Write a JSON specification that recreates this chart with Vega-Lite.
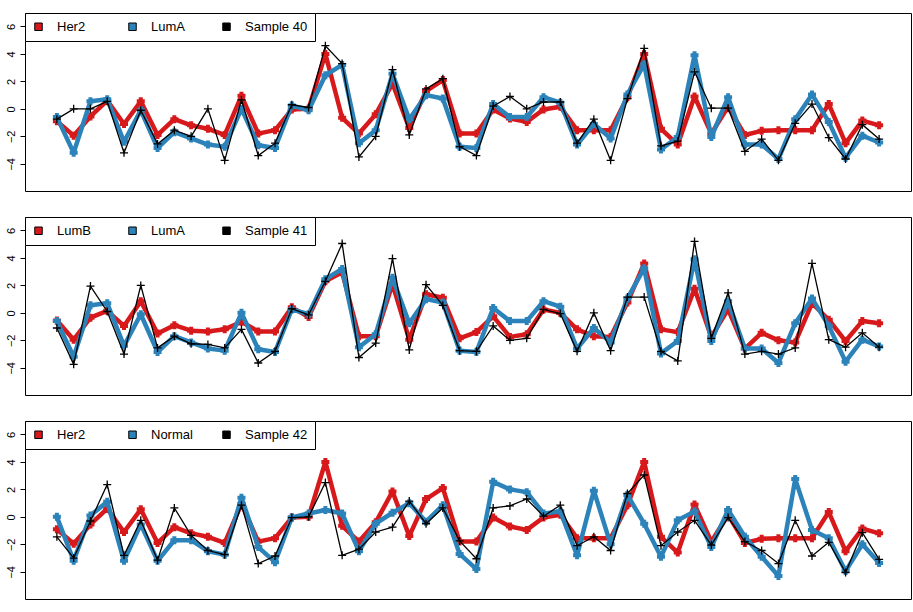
{
"$schema": "https://vega.github.io/schema/vega-lite/v6.json",
"padding": {"left": 4, "top": 12, "right": 1, "bottom": 0},
"background": "white",
"spacing": 24,
"config": {"view": {"stroke": "black", "strokeWidth": 1}, "font": "Liberation Sans"},
"datasets": {"expr": [
{"series":"Her2","x":1,"y":-0.9},{"series":"Her2","x":2,"y":-1.95},{"series":"Her2","x":3,"y":-0.55},{"series":"Her2","x":4,"y":0.6},{"series":"Her2","x":5,"y":-1.1},{"series":"Her2","x":6,"y":0.55},{"series":"Her2","x":7,"y":-1.9},{"series":"Her2","x":8,"y":-0.75},{"series":"Her2","x":9,"y":-1.2},{"series":"Her2","x":10,"y":-1.45},
{"series":"Her2","x":11,"y":-1.9},{"series":"Her2","x":12,"y":0.95},{"series":"Her2","x":13,"y":-1.8},{"series":"Her2","x":14,"y":-1.55},{"series":"Her2","x":15,"y":-0.05},{"series":"Her2","x":16,"y":0.0},{"series":"Her2","x":17,"y":4.0},{"series":"Her2","x":18,"y":-0.65},{"series":"Her2","x":19,"y":-1.8},{"series":"Her2","x":20,"y":-0.4},
{"series":"Her2","x":21,"y":1.85},{"series":"Her2","x":22,"y":-1.4},{"series":"Her2","x":23,"y":1.3},{"series":"Her2","x":24,"y":2.1},{"series":"Her2","x":25,"y":-1.8},{"series":"Her2","x":26,"y":-1.8},{"series":"Her2","x":27,"y":-0.05},{"series":"Her2","x":28,"y":-0.7},{"series":"Her2","x":29,"y":-0.95},{"series":"Her2","x":30,"y":-0.05},
{"series":"Her2","x":31,"y":0.15},{"series":"Her2","x":32,"y":-1.55},{"series":"Her2","x":33,"y":-1.55},{"series":"Her2","x":34,"y":-1.55},{"series":"Her2","x":35,"y":0.85},{"series":"Her2","x":36,"y":4.0},{"series":"Her2","x":37,"y":-1.45},{"series":"Her2","x":38,"y":-2.6},{"series":"Her2","x":39,"y":0.9},{"series":"Her2","x":40,"y":-1.8},
{"series":"Her2","x":41,"y":0.15},{"series":"Her2","x":42,"y":-1.9},{"series":"Her2","x":43,"y":-1.6},{"series":"Her2","x":44,"y":-1.55},{"series":"Her2","x":45,"y":-1.55},{"series":"Her2","x":46,"y":-1.55},{"series":"Her2","x":47,"y":0.35},{"series":"Her2","x":48,"y":-2.5},{"series":"Her2","x":49,"y":-0.85},{"series":"Her2","x":50,"y":-1.2},
{"series":"LumA","x":1,"y":-0.6},{"series":"LumA","x":2,"y":-3.2},{"series":"LumA","x":3,"y":0.55},{"series":"LumA","x":4,"y":0.7},{"series":"LumA","x":5,"y":-2.4},{"series":"LumA","x":6,"y":-0.1},{"series":"LumA","x":7,"y":-2.85},{"series":"LumA","x":8,"y":-1.7},{"series":"LumA","x":9,"y":-2.15},{"series":"LumA","x":10,"y":-2.6},
{"series":"LumA","x":11,"y":-2.75},{"series":"LumA","x":12,"y":0.0},{"series":"LumA","x":13,"y":-2.65},{"series":"LumA","x":14,"y":-2.85},{"series":"LumA","x":15,"y":0.25},{"series":"LumA","x":16,"y":-0.1},{"series":"LumA","x":17,"y":2.45},{"series":"LumA","x":18,"y":3.2},{"series":"LumA","x":19,"y":-2.5},{"series":"LumA","x":20,"y":-1.55},
{"series":"LumA","x":21,"y":2.55},{"series":"LumA","x":22,"y":-0.75},{"series":"LumA","x":23,"y":1.0},{"series":"LumA","x":24,"y":0.75},{"series":"LumA","x":25,"y":-2.75},{"series":"LumA","x":26,"y":-2.85},{"series":"LumA","x":27,"y":0.35},{"series":"LumA","x":28,"y":-0.6},{"series":"LumA","x":29,"y":-0.6},{"series":"LumA","x":30,"y":0.85},
{"series":"LumA","x":31,"y":0.45},{"series":"LumA","x":32,"y":-2.6},{"series":"LumA","x":33,"y":-1.1},{"series":"LumA","x":34,"y":-2.15},{"series":"LumA","x":35,"y":1.05},{"series":"LumA","x":36,"y":3.25},{"series":"LumA","x":37,"y":-2.95},{"series":"LumA","x":38,"y":-2.05},{"series":"LumA","x":39,"y":3.9},{"series":"LumA","x":40,"y":-2.05},
{"series":"LumA","x":41,"y":0.85},{"series":"LumA","x":42,"y":-2.6},{"series":"LumA","x":43,"y":-2.6},{"series":"LumA","x":44,"y":-3.65},{"series":"LumA","x":45,"y":-0.75},{"series":"LumA","x":46,"y":1.05},{"series":"LumA","x":47,"y":-0.95},{"series":"LumA","x":48,"y":-3.55},{"series":"LumA","x":49,"y":-1.95},{"series":"LumA","x":50,"y":-2.45},
{"series":"LumB","x":1,"y":-0.55},{"series":"LumB","x":2,"y":-1.95},{"series":"LumB","x":3,"y":-0.35},{"series":"LumB","x":4,"y":0.15},{"series":"LumB","x":5,"y":-0.95},{"series":"LumB","x":6,"y":0.85},{"series":"LumB","x":7,"y":-1.5},{"series":"LumB","x":8,"y":-0.9},{"series":"LumB","x":9,"y":-1.3},{"series":"LumB","x":10,"y":-1.35},
{"series":"LumB","x":11,"y":-1.2},{"series":"LumB","x":12,"y":-0.65},{"series":"LumB","x":13,"y":-1.35},{"series":"LumB","x":14,"y":-1.35},{"series":"LumB","x":15,"y":0.4},{"series":"LumB","x":16,"y":-0.3},{"series":"LumB","x":17,"y":2.3},{"series":"LumB","x":18,"y":2.95},{"series":"LumB","x":19,"y":-1.7},{"series":"LumB","x":20,"y":-1.7},
{"series":"LumB","x":21,"y":2.1},{"series":"LumB","x":22,"y":-1.95},{"series":"LumB","x":23,"y":1.35},{"series":"LumB","x":24,"y":1.1},{"series":"LumB","x":25,"y":-1.85},{"series":"LumB","x":26,"y":-1.4},{"series":"LumB","x":27,"y":-0.25},{"series":"LumB","x":28,"y":-1.75},{"series":"LumB","x":29,"y":-1.55},{"series":"LumB","x":30,"y":0.25},
{"series":"LumB","x":31,"y":0.0},{"series":"LumB","x":32,"y":-1.2},{"series":"LumB","x":33,"y":-1.7},{"series":"LumB","x":34,"y":-1.75},{"series":"LumB","x":35,"y":0.75},{"series":"LumB","x":36,"y":3.6},{"series":"LumB","x":37,"y":-1.2},{"series":"LumB","x":38,"y":-1.4},{"series":"LumB","x":39,"y":1.75},{"series":"LumB","x":40,"y":-1.75},
{"series":"LumB","x":41,"y":0.25},{"series":"LumB","x":42,"y":-2.6},{"series":"LumB","x":43,"y":-1.45},{"series":"LumB","x":44,"y":-2.0},{"series":"LumB","x":45,"y":-2.15},{"series":"LumB","x":46,"y":0.7},{"series":"LumB","x":47,"y":-0.5},{"series":"LumB","x":48,"y":-2.05},{"series":"LumB","x":49,"y":-0.6},{"series":"LumB","x":50,"y":-0.75},
{"series":"Normal","x":1,"y":0.0},{"series":"Normal","x":2,"y":-3.2},{"series":"Normal","x":3,"y":0.1},{"series":"Normal","x":4,"y":1.1},{"series":"Normal","x":5,"y":-3.2},{"series":"Normal","x":6,"y":-0.55},{"series":"Normal","x":7,"y":-3.2},{"series":"Normal","x":8,"y":-1.7},{"series":"Normal","x":9,"y":-1.7},{"series":"Normal","x":10,"y":-2.5},
{"series":"Normal","x":11,"y":-2.75},{"series":"Normal","x":12,"y":1.4},{"series":"Normal","x":13,"y":-2.2},{"series":"Normal","x":14,"y":-3.3},{"series":"Normal","x":15,"y":-0.05},{"series":"Normal","x":16,"y":0.25},{"series":"Normal","x":17,"y":0.5},{"series":"Normal","x":18,"y":0.25},{"series":"Normal","x":19,"y":-2.5},{"series":"Normal","x":20,"y":-0.5},
{"series":"Normal","x":21,"y":0.3},{"series":"Normal","x":22,"y":1.0},{"series":"Normal","x":23,"y":-0.35},{"series":"Normal","x":24,"y":0.85},{"series":"Normal","x":25,"y":-2.7},{"series":"Normal","x":26,"y":-3.8},{"series":"Normal","x":27,"y":2.55},{"series":"Normal","x":28,"y":2.0},{"series":"Normal","x":29,"y":1.8},{"series":"Normal","x":30,"y":0.25},
{"series":"Normal","x":31,"y":0.4},{"series":"Normal","x":32,"y":-2.8},{"series":"Normal","x":33,"y":1.9},{"series":"Normal","x":34,"y":-2.0},{"series":"Normal","x":35,"y":1.6},{"series":"Normal","x":36,"y":-0.5},{"series":"Normal","x":37,"y":-2.9},{"series":"Normal","x":38,"y":-0.25},{"series":"Normal","x":39,"y":0.4},{"series":"Normal","x":40,"y":-2.2},
{"series":"Normal","x":41,"y":0.5},{"series":"Normal","x":42,"y":-1.45},{"series":"Normal","x":43,"y":-2.9},{"series":"Normal","x":44,"y":-4.3},{"series":"Normal","x":45,"y":2.75},{"series":"Normal","x":46,"y":-0.95},{"series":"Normal","x":47,"y":-1.55},{"series":"Normal","x":48,"y":-3.95},{"series":"Normal","x":49,"y":-2.0},{"series":"Normal","x":50,"y":-3.35},
{"series":"Sample 40","x":1,"y":-0.75},{"series":"Sample 40","x":2,"y":0.0},{"series":"Sample 40","x":3,"y":0.0},{"series":"Sample 40","x":4,"y":0.55},{"series":"Sample 40","x":5,"y":-3.2},{"series":"Sample 40","x":6,"y":-0.1},{"series":"Sample 40","x":7,"y":-2.55},{"series":"Sample 40","x":8,"y":-1.55},{"series":"Sample 40","x":9,"y":-2.0},{"series":"Sample 40","x":10,"y":0.0},
{"series":"Sample 40","x":11,"y":-3.75},{"series":"Sample 40","x":12,"y":0.65},{"series":"Sample 40","x":13,"y":-3.4},{"series":"Sample 40","x":14,"y":-2.5},{"series":"Sample 40","x":15,"y":0.3},{"series":"Sample 40","x":16,"y":0.1},{"series":"Sample 40","x":17,"y":4.6},{"series":"Sample 40","x":18,"y":3.3},{"series":"Sample 40","x":19,"y":-3.5},{"series":"Sample 40","x":20,"y":-2.0},
{"series":"Sample 40","x":21,"y":2.85},{"series":"Sample 40","x":22,"y":-1.9},{"series":"Sample 40","x":23,"y":1.45},{"series":"Sample 40","x":24,"y":2.2},{"series":"Sample 40","x":25,"y":-2.75},{"series":"Sample 40","x":26,"y":-3.4},{"series":"Sample 40","x":27,"y":0.2},{"series":"Sample 40","x":28,"y":0.9},{"series":"Sample 40","x":29,"y":0.0},{"series":"Sample 40","x":30,"y":0.5},
{"series":"Sample 40","x":31,"y":0.5},{"series":"Sample 40","x":32,"y":-2.5},{"series":"Sample 40","x":33,"y":-0.75},{"series":"Sample 40","x":34,"y":-3.75},{"series":"Sample 40","x":35,"y":0.75},{"series":"Sample 40","x":36,"y":4.4},{"series":"Sample 40","x":37,"y":-2.7},{"series":"Sample 40","x":38,"y":-2.35},{"series":"Sample 40","x":39,"y":2.7},{"series":"Sample 40","x":40,"y":0.05},
{"series":"Sample 40","x":41,"y":0.05},{"series":"Sample 40","x":42,"y":-3.1},{"series":"Sample 40","x":43,"y":-2.2},{"series":"Sample 40","x":44,"y":-3.75},{"series":"Sample 40","x":45,"y":-1.05},{"series":"Sample 40","x":46,"y":0.35},{"series":"Sample 40","x":47,"y":-2.1},{"series":"Sample 40","x":48,"y":-3.65},{"series":"Sample 40","x":49,"y":-1.15},{"series":"Sample 40","x":50,"y":-2.2},
{"series":"Sample 41","x":1,"y":-1.1},{"series":"Sample 41","x":2,"y":-3.75},{"series":"Sample 41","x":3,"y":1.95},{"series":"Sample 41","x":4,"y":0.1},{"series":"Sample 41","x":5,"y":-3.0},{"series":"Sample 41","x":6,"y":2.0},{"series":"Sample 41","x":7,"y":-2.55},{"series":"Sample 41","x":8,"y":-1.7},{"series":"Sample 41","x":9,"y":-2.25},{"series":"Sample 41","x":10,"y":-2.3},
{"series":"Sample 41","x":11,"y":-2.55},{"series":"Sample 41","x":12,"y":-1.2},{"series":"Sample 41","x":13,"y":-3.65},{"series":"Sample 41","x":14,"y":-2.8},{"series":"Sample 41","x":15,"y":0.3},{"series":"Sample 41","x":16,"y":-0.15},{"series":"Sample 41","x":17,"y":2.3},{"series":"Sample 41","x":18,"y":5.05},{"series":"Sample 41","x":19,"y":-3.25},{"series":"Sample 41","x":20,"y":-2.2},
{"series":"Sample 41","x":21,"y":3.95},{"series":"Sample 41","x":22,"y":-2.7},{"series":"Sample 41","x":23,"y":2.05},{"series":"Sample 41","x":24,"y":0.55},{"series":"Sample 41","x":25,"y":-2.75},{"series":"Sample 41","x":26,"y":-2.8},{"series":"Sample 41","x":27,"y":-0.95},{"series":"Sample 41","x":28,"y":-2.0},{"series":"Sample 41","x":29,"y":-1.85},{"series":"Sample 41","x":30,"y":0.25},
{"series":"Sample 41","x":31,"y":-0.05},{"series":"Sample 41","x":32,"y":-2.8},{"series":"Sample 41","x":33,"y":0.0},{"series":"Sample 41","x":34,"y":-2.75},{"series":"Sample 41","x":35,"y":1.15},{"series":"Sample 41","x":36,"y":1.15},{"series":"Sample 41","x":37,"y":-2.8},{"series":"Sample 41","x":38,"y":-3.5},{"series":"Sample 41","x":39,"y":5.2},{"series":"Sample 41","x":40,"y":-1.85},
{"series":"Sample 41","x":41,"y":1.45},{"series":"Sample 41","x":42,"y":-3.0},{"series":"Sample 41","x":43,"y":-2.8},{"series":"Sample 41","x":44,"y":-3.0},{"series":"Sample 41","x":45,"y":-2.55},{"series":"Sample 41","x":46,"y":3.6},{"series":"Sample 41","x":47,"y":-1.95},{"series":"Sample 41","x":48,"y":-2.5},{"series":"Sample 41","x":49,"y":-1.45},{"series":"Sample 41","x":50,"y":-2.5},
{"series":"Sample 42","x":1,"y":-1.45},{"series":"Sample 42","x":2,"y":-3.0},{"series":"Sample 42","x":3,"y":-0.3},{"series":"Sample 42","x":4,"y":2.35},{"series":"Sample 42","x":5,"y":-2.8},{"series":"Sample 42","x":6,"y":-0.25},{"series":"Sample 42","x":7,"y":-3.15},{"series":"Sample 42","x":8,"y":0.65},{"series":"Sample 42","x":9,"y":-1.35},{"series":"Sample 42","x":10,"y":-2.45},
{"series":"Sample 42","x":11,"y":-2.75},{"series":"Sample 42","x":12,"y":0.85},{"series":"Sample 42","x":13,"y":-3.4},{"series":"Sample 42","x":14,"y":-2.85},{"series":"Sample 42","x":15,"y":-0.05},{"series":"Sample 42","x":16,"y":0.0},{"series":"Sample 42","x":17,"y":2.5},{"series":"Sample 42","x":18,"y":-2.8},{"series":"Sample 42","x":19,"y":-2.35},{"series":"Sample 42","x":20,"y":-1.1},
{"series":"Sample 42","x":21,"y":-0.75},{"series":"Sample 42","x":22,"y":1.15},{"series":"Sample 42","x":23,"y":-0.5},{"series":"Sample 42","x":24,"y":0.65},{"series":"Sample 42","x":25,"y":-1.75},{"series":"Sample 42","x":26,"y":-3.05},{"series":"Sample 42","x":27,"y":0.65},{"series":"Sample 42","x":28,"y":0.8},{"series":"Sample 42","x":29,"y":1.3},{"series":"Sample 42","x":30,"y":0.05},
{"series":"Sample 42","x":31,"y":0.85},{"series":"Sample 42","x":32,"y":-2.1},{"series":"Sample 42","x":33,"y":-1.45},{"series":"Sample 42","x":34,"y":-2.45},{"series":"Sample 42","x":35,"y":1.7},{"series":"Sample 42","x":36,"y":3.05},{"series":"Sample 42","x":37,"y":-2.1},{"series":"Sample 42","x":38,"y":-1.1},{"series":"Sample 42","x":39,"y":-0.25},{"series":"Sample 42","x":40,"y":-2.05},
{"series":"Sample 42","x":41,"y":-0.05},{"series":"Sample 42","x":42,"y":-1.8},{"series":"Sample 42","x":43,"y":-2.45},{"series":"Sample 42","x":44,"y":-3.4},{"series":"Sample 42","x":45,"y":-0.25},{"series":"Sample 42","x":46,"y":-2.85},{"series":"Sample 42","x":47,"y":-1.85},{"series":"Sample 42","x":48,"y":-4.05},{"series":"Sample 42","x":49,"y":-1.15},{"series":"Sample 42","x":50,"y":-3.1}
]},
"resolve": {"scale": {"stroke": "independent", "fill": "independent"}, "legend": {"fill": "independent"}},
"vconcat": [
{
"width": 886, "height": 178,
"data": {"name": "expr"},
"encoding": {
"x": {"field": "x", "type": "quantitative", "scale": {"domain": [-0.9, 51.9], "nice": false, "zero": false}, "axis": null},
"y": {"field": "y", "type": "quantitative", "scale": {"domain": [-5.98, 6.98], "nice": false, "zero": false}, "axis": {"values": [-4, -2, 0, 2, 4, 6], "title": null, "grid": false, "domain": false, "labelAngle": -90, "labelAlign": "center", "labelBaseline": "bottom", "labelPadding": 4, "tickSize": 5, "tickColor": "black", "labelColor": "black", "labelFontSize": 11, "labelFont": "Liberation Sans"}}
},
"layer": [
{"transform": [{"filter": {"field": "series", "equal": "Her2"}}], "mark": {"type": "line", "color": "#D7191C", "strokeWidth": 4.5, "strokeJoin": "round", "strokeCap": "round"}},
{"transform": [{"filter": {"field": "series", "equal": "Her2"}}], "mark": {"type": "point", "color": "#D7191C", "shape": "M-1,0H1M0,-1V1", "size": 64, "strokeWidth": 4, "filled": false, "opacity": 1}},
{"transform": [{"filter": {"field": "series", "equal": "LumA"}}], "mark": {"type": "line", "color": "#2B83BA", "strokeWidth": 4.5, "strokeJoin": "round", "strokeCap": "round"}},
{"transform": [{"filter": {"field": "series", "equal": "LumA"}}], "mark": {"type": "point", "color": "#2B83BA", "shape": "M-1,0H1M0,-1V1", "size": 64, "strokeWidth": 4, "filled": false, "opacity": 1}},
{"transform": [{"filter": {"field": "series", "equal": "Sample 40"}}], "mark": {"type": "line", "color": "#000000", "strokeWidth": 1.3}},
{"transform": [{"filter": {"field": "series", "equal": "Sample 40"}}], "mark": {"type": "point", "color": "#000000", "shape": "M-1,0H1M0,-1V1", "size": 64, "strokeWidth": 1.3, "filled": false, "opacity": 1}},
{"transform": [{"filter": {"field": "series", "oneOf": ["Her2", "LumA", "Sample 40"]}}], "mark": {"type": "square", "filled": true, "opacity": 0},
 "encoding": {"fill": {"field": "series", "type": "nominal", "scale": {"domain": ["Her2", "LumA", "Sample 40"], "range": ["#D7191C", "#2B83BA", "#000000"]}, "legend": {"orient": "top-left", "offset": 0, "direction": "horizontal", "title": null, "symbolType": "square", "symbolSize": 56, "symbolStrokeColor": "black", "symbolStrokeWidth": 1, "symbolOpacity": 1, "labelFontSize": 13, "labelFont": "Liberation Sans", "labelColor": "black", "labelOffset": 12, "columnPadding": 6, "gridAlign": "all", "padding": 7, "strokeColor": "black", "fillColor": "white", "cornerRadius": 0}}}}
]
},
{
"width": 886, "height": 178,
"data": {"name": "expr"},
"encoding": {
"x": {"field": "x", "type": "quantitative", "scale": {"domain": [-0.9, 51.9], "nice": false, "zero": false}, "axis": null},
"y": {"field": "y", "type": "quantitative", "scale": {"domain": [-5.98, 6.98], "nice": false, "zero": false}, "axis": {"values": [-4, -2, 0, 2, 4, 6], "title": null, "grid": false, "domain": false, "labelAngle": -90, "labelAlign": "center", "labelBaseline": "bottom", "labelPadding": 4, "tickSize": 5, "tickColor": "black", "labelColor": "black", "labelFontSize": 11, "labelFont": "Liberation Sans"}}
},
"layer": [
{"transform": [{"filter": {"field": "series", "equal": "LumB"}}], "mark": {"type": "line", "color": "#D7191C", "strokeWidth": 4.5, "strokeJoin": "round", "strokeCap": "round"}},
{"transform": [{"filter": {"field": "series", "equal": "LumB"}}], "mark": {"type": "point", "color": "#D7191C", "shape": "M-1,0H1M0,-1V1", "size": 64, "strokeWidth": 4, "filled": false, "opacity": 1}},
{"transform": [{"filter": {"field": "series", "equal": "LumA"}}], "mark": {"type": "line", "color": "#2B83BA", "strokeWidth": 4.5, "strokeJoin": "round", "strokeCap": "round"}},
{"transform": [{"filter": {"field": "series", "equal": "LumA"}}], "mark": {"type": "point", "color": "#2B83BA", "shape": "M-1,0H1M0,-1V1", "size": 64, "strokeWidth": 4, "filled": false, "opacity": 1}},
{"transform": [{"filter": {"field": "series", "equal": "Sample 41"}}], "mark": {"type": "line", "color": "#000000", "strokeWidth": 1.3}},
{"transform": [{"filter": {"field": "series", "equal": "Sample 41"}}], "mark": {"type": "point", "color": "#000000", "shape": "M-1,0H1M0,-1V1", "size": 64, "strokeWidth": 1.3, "filled": false, "opacity": 1}},
{"transform": [{"filter": {"field": "series", "oneOf": ["LumB", "LumA", "Sample 41"]}}], "mark": {"type": "square", "filled": true, "opacity": 0},
 "encoding": {"fill": {"field": "series", "type": "nominal", "scale": {"domain": ["LumB", "LumA", "Sample 41"], "range": ["#D7191C", "#2B83BA", "#000000"]}, "legend": {"orient": "top-left", "offset": 0, "direction": "horizontal", "title": null, "symbolType": "square", "symbolSize": 56, "symbolStrokeColor": "black", "symbolStrokeWidth": 1, "symbolOpacity": 1, "labelFontSize": 13, "labelFont": "Liberation Sans", "labelColor": "black", "labelOffset": 12, "columnPadding": 6, "gridAlign": "all", "padding": 7, "strokeColor": "black", "fillColor": "white", "cornerRadius": 0}}}}
]
},
{
"width": 886, "height": 178,
"data": {"name": "expr"},
"encoding": {
"x": {"field": "x", "type": "quantitative", "scale": {"domain": [-0.9, 51.9], "nice": false, "zero": false}, "axis": null},
"y": {"field": "y", "type": "quantitative", "scale": {"domain": [-5.98, 6.98], "nice": false, "zero": false}, "axis": {"values": [-4, -2, 0, 2, 4, 6], "title": null, "grid": false, "domain": false, "labelAngle": -90, "labelAlign": "center", "labelBaseline": "bottom", "labelPadding": 4, "tickSize": 5, "tickColor": "black", "labelColor": "black", "labelFontSize": 11, "labelFont": "Liberation Sans"}}
},
"layer": [
{"transform": [{"filter": {"field": "series", "equal": "Her2"}}], "mark": {"type": "line", "color": "#D7191C", "strokeWidth": 4.5, "strokeJoin": "round", "strokeCap": "round"}},
{"transform": [{"filter": {"field": "series", "equal": "Her2"}}], "mark": {"type": "point", "color": "#D7191C", "shape": "M-1,0H1M0,-1V1", "size": 64, "strokeWidth": 4, "filled": false, "opacity": 1}},
{"transform": [{"filter": {"field": "series", "equal": "Normal"}}], "mark": {"type": "line", "color": "#2B83BA", "strokeWidth": 4.5, "strokeJoin": "round", "strokeCap": "round"}},
{"transform": [{"filter": {"field": "series", "equal": "Normal"}}], "mark": {"type": "point", "color": "#2B83BA", "shape": "M-1,0H1M0,-1V1", "size": 64, "strokeWidth": 4, "filled": false, "opacity": 1}},
{"transform": [{"filter": {"field": "series", "equal": "Sample 42"}}], "mark": {"type": "line", "color": "#000000", "strokeWidth": 1.3}},
{"transform": [{"filter": {"field": "series", "equal": "Sample 42"}}], "mark": {"type": "point", "color": "#000000", "shape": "M-1,0H1M0,-1V1", "size": 64, "strokeWidth": 1.3, "filled": false, "opacity": 1}},
{"transform": [{"filter": {"field": "series", "oneOf": ["Her2", "Normal", "Sample 42"]}}], "mark": {"type": "square", "filled": true, "opacity": 0},
 "encoding": {"fill": {"field": "series", "type": "nominal", "scale": {"domain": ["Her2", "Normal", "Sample 42"], "range": ["#D7191C", "#2B83BA", "#000000"]}, "legend": {"orient": "top-left", "offset": 0, "direction": "horizontal", "title": null, "symbolType": "square", "symbolSize": 56, "symbolStrokeColor": "black", "symbolStrokeWidth": 1, "symbolOpacity": 1, "labelFontSize": 13, "labelFont": "Liberation Sans", "labelColor": "black", "labelOffset": 12, "columnPadding": 6, "gridAlign": "all", "padding": 7, "strokeColor": "black", "fillColor": "white", "cornerRadius": 0}}}}
]
}
]
}
